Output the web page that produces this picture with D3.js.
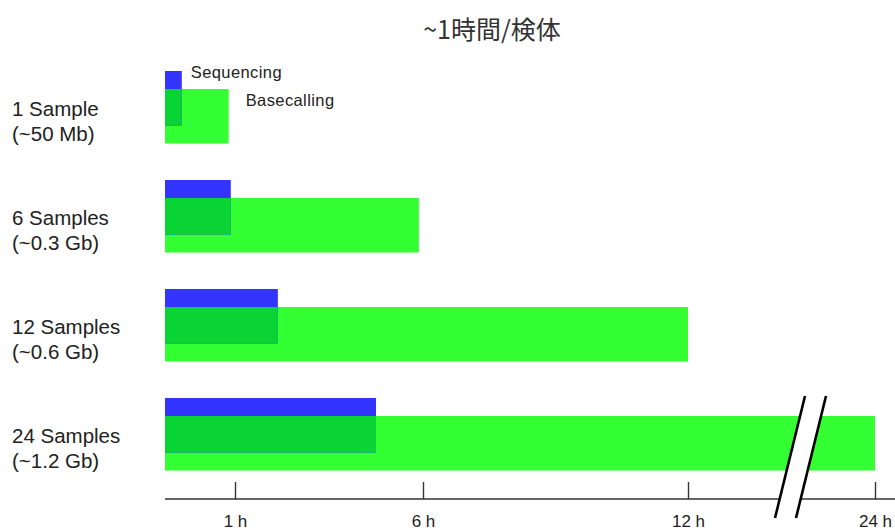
<!DOCTYPE html>
<html>
<head>
<meta charset="utf-8">
<script src="https://cdn.jsdelivr.net/npm/d3@7"></script>
<style>
  html, body { margin: 0; padding: 0; background: #fff; }
  svg { display: block; }
  text { font-family: "Liberation Sans", Arial, sans-serif; fill: #222; }
</style>
</head>
<body>
<svg id="chart" width="895" height="530"></svg>
<script>
// ---- data ----
const categories = ["1 Sample", "6 Samples", "12 Samples", "24 Samples"];
const sublabels = ["(~50 Mb)", "(~0.3 Gb)", "(~0.6 Gb)", "(~1.2 Gb)"];
const sequencingHours = [0.24, 0.94, 2.14, 4.75];
const basecallingHours = [0.91, 5.89, 12, 24];
const tickValues = [1, 6, 12, 24];
const tickLabels = ["1 h", "6 h", "12 h", "24 h"];
const title = "~1時間/検体";
const seriesNames = ["Sequencing", "Basecalling"];

// ---- drawing ----
const svg = d3.select("#chart");
const colSeq = "#3434ff", colBase = "#33ff33", colOverlap = "#0ad433";

// piecewise (broken) time axis
const x = d3.scaleLinear().domain([0, 1, 6, 12, 24]).range([165, 235, 423, 688, 875]);
const y = d3.scaleBand().domain(categories).range([71, 507]).paddingInner(0).paddingOuter(0);
const barH = 54.5, offset = 18;

const rows = categories.map((c, i) => ({
  cat: c, sub: sublabels[i], seq: sequencingHours[i], base: basecallingHours[i]
}));

const g = svg.append("g");
// basecalling bars
g.selectAll("rect.base").data(rows).join("rect").attr("class", "base")
  .attr("x", x(0)).attr("y", d => y(d.cat) + offset)
  .attr("width", d => x(d.base) - x(0)).attr("height", barH)
  .attr("fill", colBase);
// sequencing bars
g.selectAll("rect.seq").data(rows).join("rect").attr("class", "seq")
  .attr("x", x(0)).attr("y", d => y(d.cat))
  .attr("width", d => x(d.seq) - x(0)).attr("height", barH)
  .attr("fill", colSeq);
// overlap region
g.selectAll("rect.ov").data(rows).join("rect").attr("class", "ov")
  .attr("x", x(0)).attr("y", d => y(d.cat) + offset)
  .attr("width", d => x(Math.min(d.seq, d.base)) - x(0)).attr("height", barH - offset)
  .attr("fill", colOverlap);

// row labels
const lab = svg.selectAll("text.lab").data(rows).join("text").attr("class", "lab")
  .attr("x", 12).attr("y", d => y(d.cat) + 45)
  .style("font-size", "20.5px");
lab.append("tspan").text(d => d.cat);
lab.append("tspan").attr("x", 12).attr("dy", 25).text(d => d.sub);

// series annotations
svg.append("text").attr("x", x(sequencingHours[0]) + 9).attr("y", y(categories[0]) + 7)
  .style("font-size", "16.5px").style("letter-spacing", "0.4px").text(seriesNames[0]);
svg.append("text").attr("x", x(basecallingHours[0]) + 17).attr("y", y(categories[0]) + 35)
  .style("font-size", "16.5px").style("letter-spacing", "0.4px").text(seriesNames[1]);

// axis
const axisY = 499;
const axis = d3.axisTop(x).tickValues(tickValues).tickFormat((d, i) => tickLabels[i]).tickSize(17).tickSizeOuter(0);
const ax = svg.append("g").attr("transform", `translate(0,${axisY})`).call(axis);
ax.select(".domain").remove();
ax.append("line").attr("x1", x(0)).attr("x2", 900).attr("y1", 0).attr("y2", 0)
  .attr("stroke", "#333").attr("stroke-width", 1.6);
ax.selectAll(".tick line").attr("stroke", "#333").attr("stroke-width", 1.4);
ax.selectAll(".tick text").attr("y", 27.5).attr("dy", 0)
  .style("font-size", "17px").style("font-family", "Liberation Sans, Arial, sans-serif").attr("fill", "#222");

// axis break
const brk = svg.append("g");
brk.append("polygon")
  .attr("points", "805,396 826,396 796,518 775,518")
  .attr("fill", "#fff");
brk.append("line").attr("x1", 805).attr("y1", 396).attr("x2", 775).attr("y2", 518)
  .attr("stroke", "#000").attr("stroke-width", 2.6);
brk.append("line").attr("x1", 826).attr("y1", 396).attr("x2", 796).attr("y2", 518)
  .attr("stroke", "#000").attr("stroke-width", 2.6);

// title
svg.append("text").attr("x", 492).attr("y", 39).attr("text-anchor", "middle")
  .style("font-family", "'Noto Sans CJK JP', 'Liberation Sans', sans-serif")
  .style("font-size", "25px").style("fill", "#333").text(title);
</script>
</body>
</html>
